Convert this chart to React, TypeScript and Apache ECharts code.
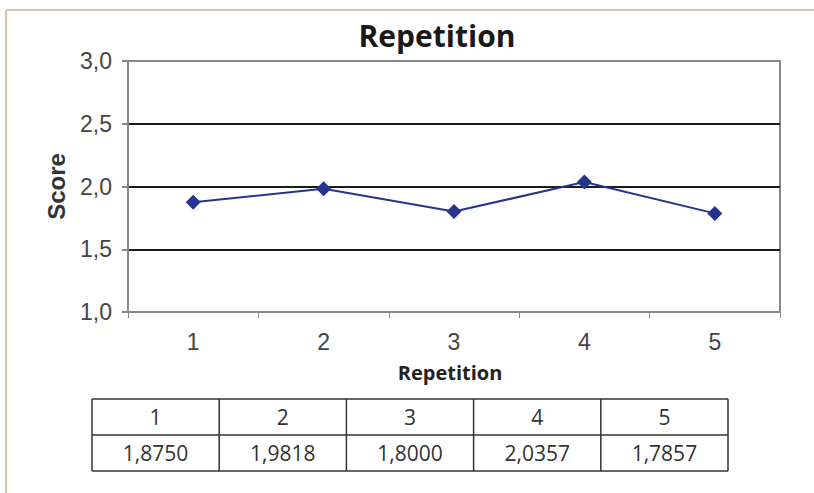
import React, { useEffect, useRef } from "react";
import * as echarts from "echarts";

const categories = ["1", "2", "3", "4", "5"];
const scores = [1.875, 1.9818, 1.8, 2.0357, 1.7857];
const tableValues = ["1,8750", "1,9818", "1,8000", "2,0357", "1,7857"];
const titleText = "Repetition";
const xName = "Repetition";
const yName = "Score";

export default function App() {
  const ref = useRef<HTMLDivElement>(null);
  useEffect(() => {
    if (!ref.current) return;
    const chart = echarts.init(ref.current, null, { renderer: "svg" });

    const tLeft = 92;
    const tTop = 399;
    const colW = 127.2;
    const rowH = 36;
    const tableGraphics: any[] = [];
    const lineStyle = { stroke: "#333", lineWidth: 1.5 };
    for (let r = 0; r <= 2; r++) {
      tableGraphics.push({
        type: "line",
        shape: { x1: tLeft, y1: tTop + r * rowH, x2: tLeft + colW * categories.length, y2: tTop + r * rowH },
        style: lineStyle,
      });
    }
    for (let c = 0; c <= categories.length; c++) {
      tableGraphics.push({
        type: "line",
        shape: { x1: tLeft + c * colW, y1: tTop, x2: tLeft + c * colW, y2: tTop + 2 * rowH },
        style: lineStyle,
      });
    }
    categories.forEach((cat, i) => {
      tableGraphics.push({
        type: "text",
        x: tLeft + (i + 0.5) * colW,
        y: tTop + rowH / 2,
        style: { text: cat, fill: "#333", font: "21px 'Open Sans'", textAlign: "center", textVerticalAlign: "middle" },
      });
      tableGraphics.push({
        type: "text",
        x: tLeft + (i + 0.5) * colW,
        y: tTop + rowH * 1.5,
        style: { text: tableValues[i], fill: "#333", font: "21px 'Open Sans'", textAlign: "center", textVerticalAlign: "middle" },
      });
    });

    chart.setOption({
      animation: false,
      backgroundColor: "#ffffff",
      title: {
        text: titleText,
        left: 432,
        top: 15,
        textAlign: "center",
        textStyle: { fontFamily: "Open Sans", fontWeight: "bold", fontSize: 30, color: "#1a1a1a" },
      },
      grid: {
        left: 128,
        top: 61,
        width: 652,
        height: 251,
        show: true,
        borderColor: "#888",
        borderWidth: 2,
        backgroundColor: "transparent",
      },
      xAxis: {
        type: "category",
        data: categories,
        boundaryGap: true,
        name: xName,
        nameLocation: "middle",
        nameGap: 50,
        nameTextStyle: { fontFamily: "Open Sans", fontWeight: "bold", fontSize: 20, color: "#222", padding: [0, 8, 0, 0] },
        axisLine: { lineStyle: { color: "#888", width: 2 } },
        axisTick: { show: true, alignWithLabel: false, length: 6, lineStyle: { color: "#888", width: 1 } },
        axisLabel: { fontFamily: "Liberation Sans", fontSize: 23, color: "#444", margin: 18 },
      },
      yAxis: {
        type: "value",
        min: 1,
        max: 3,
        interval: 0.5,
        name: yName,
        nameLocation: "middle",
        nameGap: 60,
        nameTextStyle: { fontFamily: "Liberation Sans", fontWeight: "bold", fontSize: 24, color: "#333" },
        axisLine: { show: true, lineStyle: { color: "#888", width: 2 } },
        axisTick: { show: true, length: 6, lineStyle: { color: "#888", width: 2 } },
        axisLabel: {
          fontFamily: "Liberation Sans",
          fontSize: 23,
          color: "#444",
          margin: 16,
          formatter: (v: number) => v.toFixed(1).replace(".", ","),
        },
        splitLine: { show: true, lineStyle: { color: ["#888", "#1a1a1a", "#1a1a1a", "#1a1a1a", "#888"], width: 2 } },
      },
      series: [
        {
          type: "line",
          data: scores,
          symbol: "diamond",
          symbolSize: [15, 15],
          lineStyle: { color: "#26348f", width: 2 },
          itemStyle: { color: "#26348f" },
        },
      ],
      graphic: [
        { type: "line", shape: { x1: 6, y1: 10, x2: 814, y2: 10 }, style: { stroke: "#d6c2b0", lineWidth: 2 } },
        { type: "line", shape: { x1: 6, y1: 10, x2: 6, y2: 493 }, style: { stroke: "#d6c2b0", lineWidth: 2 } },
        ...tableGraphics,
      ],
    });
    return () => chart.dispose();
  }, []);
  return <div ref={ref} style={{ position: "absolute", left: 0, top: 0, width: 814, height: 493 }} />;
}
